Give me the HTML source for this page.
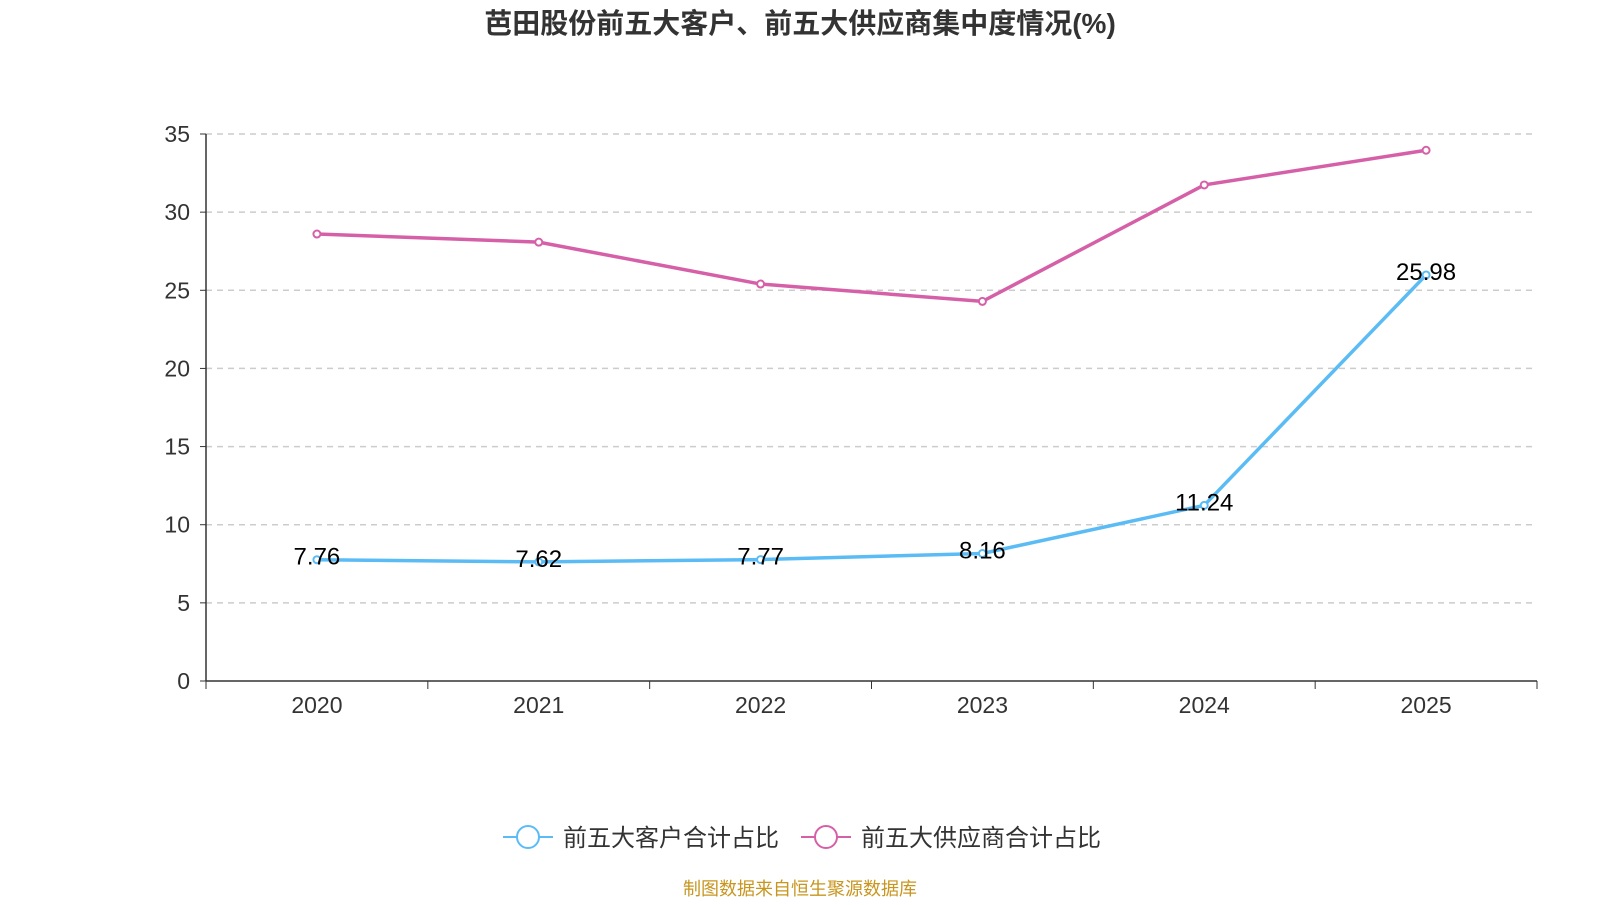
<!DOCTYPE html>
<html><head><meta charset="utf-8"><style>
body{margin:0;width:1600px;height:900px;background:#fff;overflow:hidden;font-family:"Liberation Sans","Noto Sans CJK SC",sans-serif;}
</style></head><body>
<svg id="chart" width="1600" height="900" xmlns="http://www.w3.org/2000/svg" font-family="Liberation Sans, Noto Sans CJK SC, sans-serif">
<text x="800" y="33" text-anchor="middle" font-size="28" font-weight="bold" fill="#333">芭田股份前五大客户、前五大供应商集中度情况(%)</text>
<g id="grid"></g><g id="axes"></g><g id="series"></g>
<g>
<g>
<line x1="503" y1="837" x2="553" y2="837" stroke="#5bbcf5" stroke-width="2"/>
<circle cx="528" cy="837" r="11" fill="#fff" stroke="#5bbcf5" stroke-width="2"/>
<text x="563" y="846" font-size="24" fill="#333">前五大客户合计占比</text></g>
<g>
<line x1="801" y1="837" x2="851" y2="837" stroke="#d660a8" stroke-width="2"/>
<circle cx="826" cy="837" r="11" fill="#fff" stroke="#d660a8" stroke-width="2"/>
<text x="861" y="846" font-size="24" fill="#333">前五大供应商合计占比</text></g>
</g>
<text x="800" y="895" text-anchor="middle" font-size="18" fill="#c8961e">制图数据来自恒生聚源数据库</text>
</svg>
<script>
const categories=["2020","2021","2022","2023","2024","2025"];
const customerValues=[7.76,7.62,7.77,8.16,11.24,25.98];
const supplierValues=[28.6,28.08,25.4,24.29,31.74,33.96];
const yTicks=[0,5,10,15,20,25,30,35];
const NS="http://www.w3.org/2000/svg";
const x0=206,x1=1537,yTop=134,yBot=681,yMax=35;
const step=(x1-x0)/categories.length;
const xs=i=>x0+step*(i+0.5);
const ys=v=>yBot-(v/yMax)*(yBot-yTop);
function mk(tag,attrs,parent,text){const e=document.createElementNS(NS,tag);for(const k in attrs)e.setAttribute(k,attrs[k]);if(text!==undefined)e.textContent=text;parent.appendChild(e);return e;}
const grid=document.getElementById('grid'),axes=document.getElementById('axes'),series=document.getElementById('series');
yTicks.forEach(t=>{
 if(t>0){const g=mk('line',{x1:x0,x2:x1,y1:ys(t),y2:ys(t),stroke:'#ccc','stroke-dasharray':'6,5','stroke-width':1.5},grid);
 
 }
 const l=mk('text',{x:x0-16,y:ys(t)+8,'text-anchor':'end','font-size':23,fill:'#333'},axes,String(t));
 
 
 mk('line',{x1:x0-6,x2:x0,y1:ys(t),y2:ys(t),stroke:'#333'},axes);
});
const ya=mk('line',{x1:x0,x2:x0,y1:yTop,y2:yBot,stroke:'#333','stroke-width':1.5},axes);


const xa=mk('line',{x1:x0,x2:x1,y1:yBot,y2:yBot,stroke:'#333','stroke-width':1.5},axes);


for(let i=0;i<=categories.length;i++)mk('line',{x1:x0+step*i,x2:x0+step*i,y1:yBot,y2:yBot+8,stroke:'#333'},axes);
categories.forEach((c,i)=>{const t=mk('text',{x:xs(i),y:yBot+32,'text-anchor':'middle','font-size':23,fill:'#333'},axes,c);
 
 });
function drawSeries(vals,color,name,labels){
 const p=mk('polyline',{points:vals.map((v,i)=>xs(i)+','+ys(v)).join(' '),fill:'none',stroke:color,'stroke-width':3.5},series);
 
 
 vals.forEach((v,i)=>{const c=mk('circle',{cx:xs(i),cy:ys(v),r:3.5,fill:'#fff',stroke:color,'stroke-width':2},series);
  
  
  if(labels){const t=mk('text',{x:xs(i),y:ys(v)+5,'text-anchor':'middle','font-size':24,fill:'#000'},series,v.toFixed(2));
   
   }
 });
}
drawSeries(supplierValues,'#d660a8','supplier',false);
drawSeries(customerValues,'#5bbcf5','customer',true);
</script>
</body></html>
